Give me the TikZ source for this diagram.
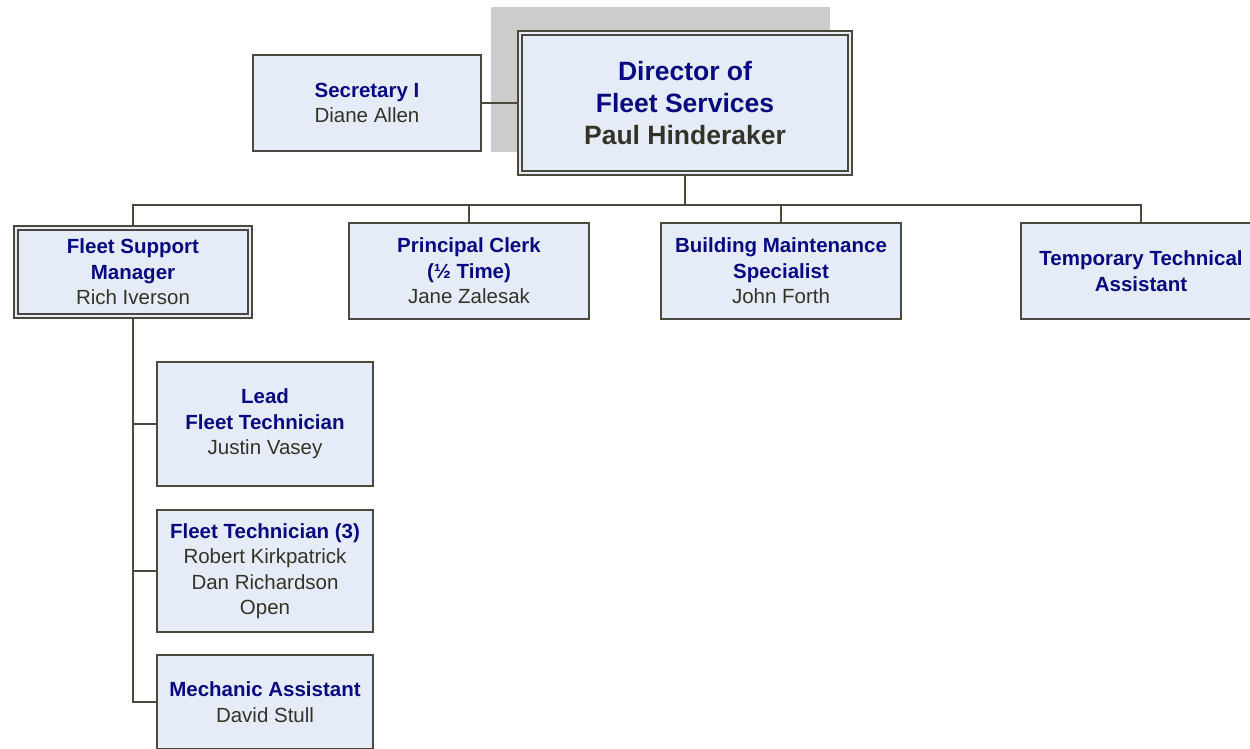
\documentclass[tikz,border=0pt]{standalone}
\usepackage{fontspec}
\setmainfont{Liberation Sans}
\usepackage{tikz}
\usetikzlibrary{positioning}
\definecolor{boxfill}{HTML}{E6ECF7}
\definecolor{boxline}{HTML}{4A4A3C}
\definecolor{titlecol}{HTML}{0A0A80}
\definecolor{namecol}{HTML}{333328}
\definecolor{shadowcol}{HTML}{CCCCCC}
\newcommand{\postname}[1]{{\color{titlecol}\bfseries #1}}
\tikzset{
	x=1pt, y=-1pt, % pixel-like units, y pointing down
	post/.style={rectangle, draw=boxline, fill=boxfill, line width=1.6pt, align=center,
		text=namecol, font=\fontsize{20.5}{25.5}\selectfont, inner sep=0pt}, % every box of the chart
	dbl/.style={double=boxfill, double distance=2.6pt, line width=1.7pt}, % boxes with a double frame
	link/.style={draw=boxline, line width=2pt}, % reporting lines
}
\begin{document}
\begin{tikzpicture}
	\useasboundingbox (0,0) rectangle (1250,748);
	\clip (0,0) rectangle (1250,748);
	\fill[shadowcol] (491,7) rectangle (830,152);
	% top level
	\node[post, dbl, minimum width=330pt, minimum height=140pt, font=\fontsize{26.5}{32}\selectfont] (dir) at (685,103)
		{\postname{Director of}\\\postname{Fleet Services}\\{\bfseries Paul Hinderaker}};
	\node[post, minimum width=228pt, minimum height=96pt] (sec) at (367,103) {\postname{Secretary I}\\Diane Allen};
	\coordinate (bar) at (685,205);
	% second level
	\node[post, dbl, minimum width=234pt, minimum height=88pt] (fsm) at (133,272) {\postname{Fleet Support}\\\postname{Manager}\\Rich Iverson};
	\node[post, minimum width=240pt, minimum height=96pt] (clerk) at (469,271) {\postname{Principal Clerk}\\\postname{(\textonehalf{} Time)}\\Jane Zalesak};
	\node[post, minimum width=240pt, minimum height=96pt] (bms) at (781,271) {\postname{Building Maintenance}\\\postname{Specialist}\\John Forth};
	\node[post, minimum width=240pt, minimum height=96pt] (temp) at (1141,271) {\postname{Temporary Technical}\\\postname{Assistant}};
	% under the fleet support manager
	\node[post, minimum width=216pt, minimum height=124pt] (lead) at (265,424) {\postname{Lead}\\\postname{Fleet Technician}\\Justin Vasey};
	\node[post, minimum width=216pt, minimum height=122pt] (tech) at (265,571) {\postname{Fleet Technician (3)}\\Robert Kirkpatrick\\Dan Richardson\\Open};
	\node[post, minimum width=216pt, minimum height=94pt] (mech) at (265,702) {\postname{Mechanic Assistant}\\David Stull};
	\draw[link] (sec.east) -- (dir.west);
	\draw[link] (dir.south) -- (bar);
	\draw[link] (fsm.north) |- (bar) -| (temp.north);
	\draw[link] (clerk.north) -- (clerk.north |- bar);
	\draw[link] (bms.north) -- (bms.north |- bar);
	\draw[link] (fsm.south) |- (mech.west);
	\draw[link] (fsm.south |- lead.west) -- (lead.west);
	\draw[link] (fsm.south |- tech.west) -- (tech.west);
\end{tikzpicture}
\end{document}
